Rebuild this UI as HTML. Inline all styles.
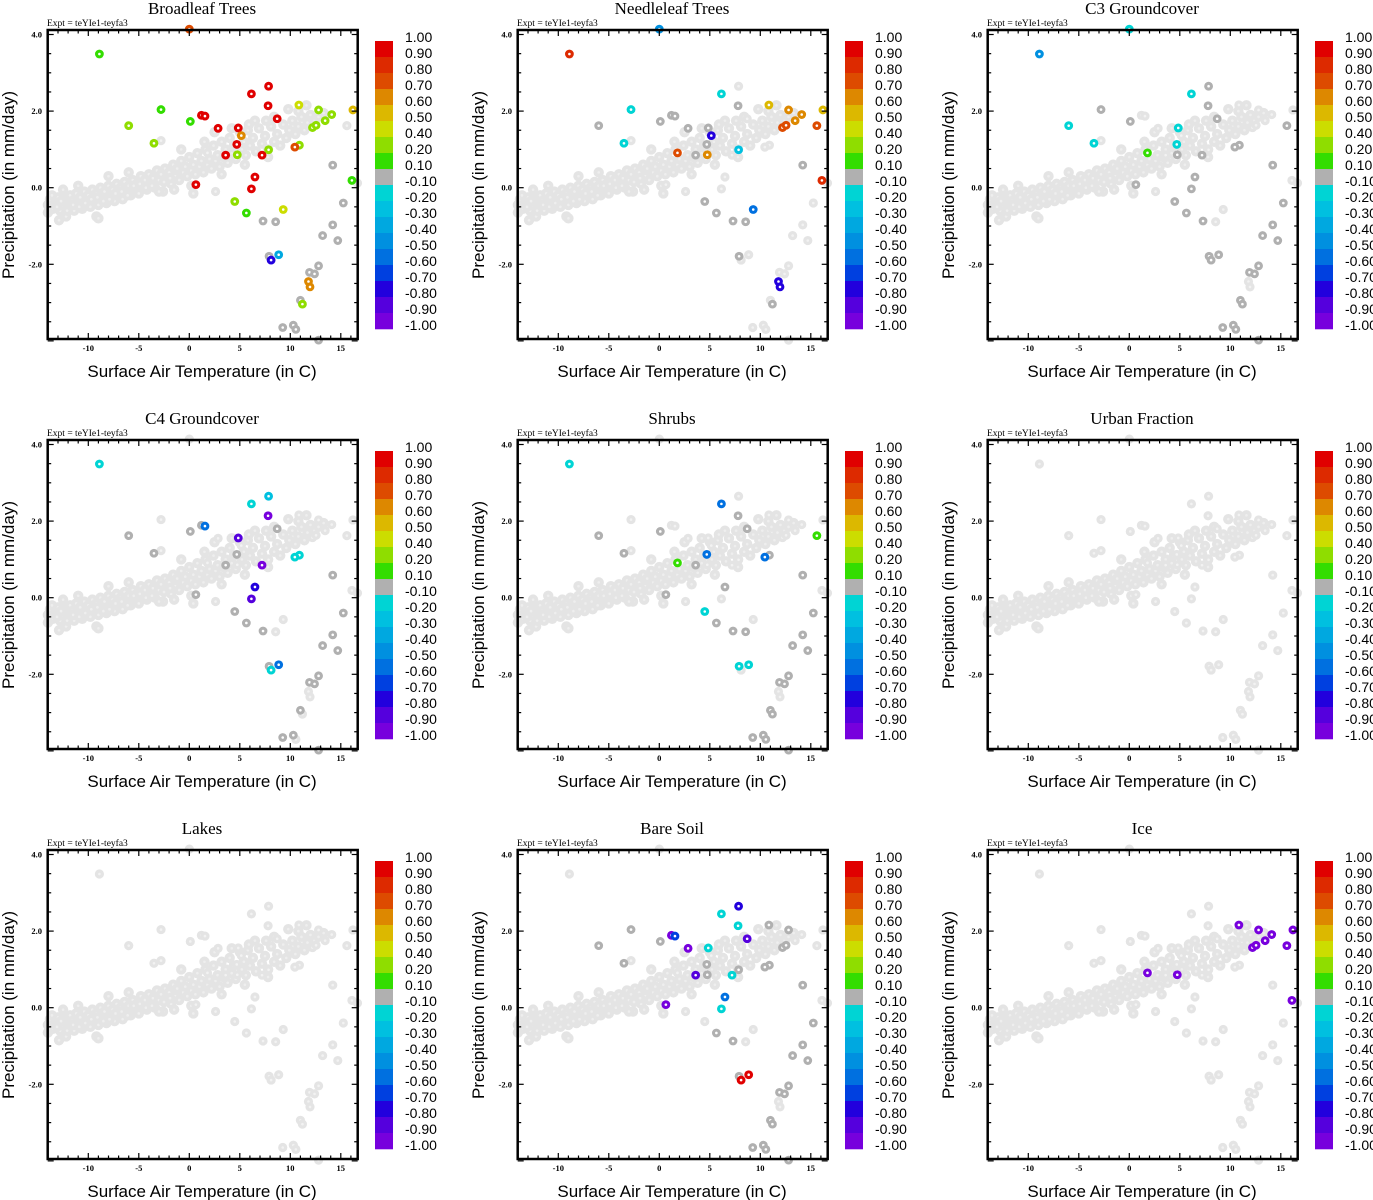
<!DOCTYPE html>
<html><head><meta charset="utf-8"><style>
html,body{margin:0;padding:0;background:#fff;}
svg{display:block;}
</style></head><body>
<svg id="chart" width="1373" height="1200" viewBox="0 0 1373 1200" xmlns="http://www.w3.org/2000/svg"></svg>
<script>
// ---- data ----
const panelTitles = ["Broadleaf Trees","Needleleaf Trees","C3 Groundcover","C4 Groundcover","Shrubs","Urban Fraction","Lakes","Bare Soil","Ice"];
const cloudTemp = [-14,-13.8,-13.5,-13.2,-13,-12.8,-12.6,-12.4,-12.2,-12,-11.8,-11.6,-11.4,-11.2,-11,-10.8,-10.6,-10.4,-10.2,-10,-9.8,-9.6,-9.4,-9.2,-9.0,-8.8,-8.6,-8.4,-8.2,-8,-7.8,-7.6,-7.4,-7.2,-7,-6.8,-6.6,-6.4,-6.2,-6,-5.8,-5.6,-5.4,-5.2,-5,-4.8,-4.6,-4.4,-4.2,-4,-3.8,-3.6,-3.4,-3.2,-3,-2.8,-2.6,-2.4,-2.2,-2,-1.8,-1.6,-1.4,-1.2,-1,-0.8,-0.6,-0.4,-0.2,0,0.2,0.4,0.6,0.8,1,1.2,1.4,1.6,1.8,2,2.2,2.4,2.6,2.8,3,3.2,3.4,3.6,3.8,4,4.2,4.4,4.6,5,5.2,5.4,5.6,5.8,6,6.3,6.6,6.9,7.2,7.5,7.8,8.1,8.4,8.7,9,9.3,9.6,9.9,10.2,10.5,10.8,11.1,11.4,11.7,12,12.4,12.8,13.3,-12.9,-9.2,-9.0,-14,-3,0.4,2.5,6.5,7.6,8.4,9.8,10.8,11.6,4.2,5.9,-0.8,1.5,3.2,5.5,7.8,0.2,-1.5,-6,-8,-11,-12.5,-13.6,-13.1,-12.7,-12.1,-11.5,-10.9,-10.3,-9.7,-9.1,-8.5,-7.9,-7.3,-6.7,-6.1,-5.5,-4.9,-4.3,-3.7,-2.5,-1.9];
const cloudPrecip = [-0.45,-0.3,-0.55,-0.4,-0.25,-0.6,-0.45,-0.3,-0.75,-0.5,-0.2,-0.35,-0.6,-0.15,-0.4,-0.25,-0.55,-0.1,-0.35,-0.2,-0.5,-0.05,-0.3,-0.15,-0.45,0.0,-0.25,-0.1,-0.4,0.05,-0.2,-0.05,-0.35,0.1,-0.15,0.0,-0.3,0.15,-0.1,0.05,-0.2,0.2,0.0,0.1,-0.15,0.3,0.05,0.2,-0.05,0.35,0.15,0.25,0.0,0.45,0.2,0.35,-0.1,0.5,0.25,0.4,0.1,0.6,0.3,0.5,0.2,0.7,0.4,0.55,0.3,0.8,0.45,0.6,0.35,0.9,0.55,0.7,0.4,1.0,0.6,0.75,0.5,1.1,0.7,0.85,0.55,1.2,0.8,1.0,0.65,1.3,0.9,1.1,0.75,1.45,1.0,1.2,0.85,1.5,1.1,1.3,0.95,1.55,1.15,1.35,1.0,1.6,1.2,1.4,1.1,1.65,1.3,1.5,1.75,1.4,1.6,1.85,1.5,1.7,1.9,1.75,1.85,1.95,-0.85,-0.75,-0.8,-0.65,-0.1,-0.15,1.45,1.75,1.75,1.85,2.05,2.0,2.15,1.55,1.65,1.0,1.2,0.35,0.6,0.8,0.05,-0.05,0.4,0.3,0.05,-0.05,-0.2,-0.5,-0.35,-0.6,-0.45,-0.5,-0.4,-0.3,-0.25,-0.35,-0.3,-0.15,-0.1,-0.2,0.05,0.1,0.0,0.05,0.15,0.25];
const ptTemp = [0.0,-8.9,-2.8,-6.0,-3.5,0.1,1.2,1.55,2.85,4.85,5.15,4.7,3.6,4.75,6.15,7.85,7.8,8.7,7.85,7.2,6.5,6.15,0.65,4.5,5.65,9.3,7.3,8.55,10.85,10.9,10.45,12.8,12.2,12.55,13.45,14.1,16.2,16.1,15.6,16.65,14.2,15.25,14.2,13.2,14.7,12.8,11.9,12.4,11.8,11.95,11.0,11.2,9.25,10.3,10.55,12.8,7.9,8.1,8.85,-2.8,2.6,1.8];
const ptPrecip = [4.14,3.49,2.04,1.62,1.16,1.73,1.89,1.87,1.55,1.56,1.36,1.13,0.85,0.86,2.45,2.65,2.14,1.80,0.99,0.85,0.28,-0.03,0.08,-0.36,-0.66,-0.57,-0.87,-0.89,2.16,1.11,1.06,2.03,1.57,1.63,1.75,1.91,2.03,0.19,1.62,0.12,0.59,-0.40,-0.97,-1.25,-1.38,-2.04,-2.21,-2.25,-2.45,-2.59,-2.94,-3.04,-3.65,-3.59,-3.70,-3.98,-1.79,-1.89,-1.75,1.23,-0.10,0.91];
const valBroadleaf = [0.75,0.15,0.15,0.3,0.3,0.15,0.95,0.95,0.95,0.95,0.65,0.95,0.95,0.3,0.95,0.95,0.95,0.95,0.3,0.95,0.95,0.95,0.95,0.3,0.15,0.45,0,0,0.45,0.3,0.75,0.3,0.3,0.3,0.3,0.3,0.55,0.15,null,null,0,0,0,0,0,0,0,0,0.65,0.65,0,0.3,0,0,0,0,0,-0.75,-0.35,null,null,null];
const valNeedleleaf = [-0.45,0.85,-0.15,0,-0.15,0,0,0,0,0,-0.75,0,0,0.65,-0.15,null,0,null,-0.25,null,null,null,null,0,0,-0.55,0,0,0.55,null,null,0.65,0.75,0.75,0.65,0.65,0.55,0.85,0.75,null,0,null,null,null,null,null,null,null,-0.75,-0.75,null,0,null,null,null,null,0,null,null,null,null,0.75];
const valC3 = [-0.15,-0.45,0,-0.15,-0.15,0,null,null,null,-0.15,null,-0.15,null,0,-0.15,0,0,0,null,0,0,0,0,0,0,null,0,null,null,0,0,null,null,null,null,null,null,null,0,null,0,0,0,0,0,0,0,0,null,null,0,0,0,0,0,0,0,0,0,null,null,0.15];
const valC4 = [null,-0.15,null,0,0,0,0,-0.55,null,-0.85,null,0,0,null,-0.15,-0.25,-0.95,0,null,-0.95,-0.75,-0.85,0,0,0,null,0,null,null,-0.15,-0.15,null,null,null,null,null,null,null,null,null,0,0,0,0,0,0,0,0,null,null,0,null,0,0,null,0,0,-0.15,-0.55,null,null,null];
const valShrubs = [null,-0.15,null,0,0,0,null,null,null,null,null,-0.55,0,null,-0.55,null,0,0,null,null,0,null,0,-0.15,0,null,0,0,null,0,-0.55,null,null,null,null,null,null,null,0.15,null,0,0,0,0,0,0,0,0,null,null,0,0,0,0,0,0,-0.15,null,-0.15,null,null,0.15];
const valUrban = new Array(62).fill(null);
const valLakes = new Array(62).fill(null);
const valBareSoil = [null,null,0,0,0,0,-0.95,-0.65,-0.95,-0.15,null,0,-0.85,0,-0.15,-0.75,-0.15,-0.85,0,-0.15,-0.55,-0.15,-0.95,null,0,null,0,null,0,0,0,0,0,0,null,null,null,null,null,null,0,0,0,0,0,0,0,0,null,null,0,0,0,0,0,0,0,0.95,0.95,null,null,null];
const valIce = [null,null,null,null,null,null,null,null,null,null,null,null,null,-0.95,null,null,null,null,null,null,null,null,null,null,null,null,null,null,-0.95,null,null,-0.95,-0.95,-0.95,-0.95,-0.95,-0.95,-0.95,-0.95,null,null,null,null,null,null,null,null,null,null,null,null,null,null,null,null,null,null,null,null,null,null,-0.95];
const xTicks = [-10,-5,0,5,10,15];
const yTicks = [4,2,0,-2];
const yTickLabels = ["4.0","2.0","0.0","-2.0"];
const cbEdges = [1.0,0.9,0.8,0.7,0.6,0.5,0.4,0.2,0.1,-0.1,-0.2,-0.3,-0.4,-0.5,-0.6,-0.7,-0.8,-0.9,-1.0];
const cbLabels = ["1.00","0.90","0.80","0.70","0.60","0.50","0.40","0.20","0.10","-0.10","-0.20","-0.30","-0.40","-0.50","-0.60","-0.70","-0.80","-0.90","-1.00"];
const cbColors = ["#e00000","#dd2a00","#dd4b00","#dd8800","#dcb800","#ccdd00","#8fdd00","#33dd00","#b0b0b0","#00d4d4","#00c0e0","#00a8e0","#0090e0","#0070e0","#0040e0","#2200dd","#5500dd","#7700dd"];
const panelValues = [valBroadleaf,valNeedleleaf,valC3,valC4,valShrubs,valUrban,valLakes,valBareSoil,valIce];

// ---- geometry ----
const NS = "http://www.w3.org/2000/svg";
const svg = document.getElementById("chart");
const L=47.7,R=357.7,T=30,B=339;
const xS = t => 189.3 + t*10.1;
const yS = p => 187.7 - p*38.3;
function mk(tag, attrs, parent){const e=document.createElementNS(NS,tag);for(const k in attrs)e.setAttribute(k,attrs[k]);parent.appendChild(e);return e;}
function colorFor(v){for(let i=0;i<cbColors.length;i++){if(v<=cbEdges[i]&&v>=cbEdges[i+1])return cbColors[i];}return "#b0b0b0";}
function slug(s){return s.toLowerCase().replace(/[^a-z0-9]+/g,'-');}

panelTitles.forEach((title,pi)=>{
  const ox=(pi%3)*470, oy=Math.floor(pi/3)*410;
  const g=mk("g",{transform:`translate(${ox},${oy})`},svg);
  
  
  const tt=mk("text",{x:202,y:14,"text-anchor":"middle","font-family":"Liberation Serif, serif","font-size":"17"},g);
  tt.textContent=title;
  
  
  const ex=mk("text",{x:47,y:26,"font-family":"Liberation Serif, serif","font-size":"9.5"},g);
  ex.textContent="Expt = teYIe1-teyfa3";
  
  
  const pg=mk("g",{},g);
  
  
  const ring=(t,p,col,inner,r,name)=>{
    const c=mk("circle",{cx:xS(t),cy:yS(p),r:r,fill:col},pg);
    
    
    mk("circle",{cx:xS(t),cy:yS(p),r:1.3,fill:inner},pg);
  };
  cloudTemp.forEach((t,i)=>ring(t,cloudPrecip[i],"#e4e4e4","#eeeeee",5.2,"cloud-point"));
  const vals=panelValues[pi];
  ptTemp.forEach((t,i)=>{if(vals[i]===null)ring(t,ptPrecip[i],"#e4e4e4","#f2f2f2",4.6,"point-insignificant");});
  ptTemp.forEach((t,i)=>{const v=vals[i];if(v!==null&&v>-0.1&&v<0.1)ring(t,ptPrecip[i],"#b0b0b0","#ffffff",4.4,"point-neutral");});
  ptTemp.forEach((t,i)=>{const v=vals[i];if(v!==null&&(v>=0.1||v<=-0.1))ring(t,ptPrecip[i],colorFor(v),"#ffffff",4.4,"point-colored");});
  const fr=mk("rect",{x:L,y:T,width:R-L,height:B-T,fill:"none",stroke:"#000","stroke-width":2.5},g);
  
  
  for(let t=-14;t<=16;t++){const x=xS(t);const maj=xTicks.includes(t);const len=maj?6:3.5;
    mk("line",{x1:x,x2:x,y1:B,y2:B-len,stroke:"#000","stroke-width":1.2},g);
    mk("line",{x1:x,x2:x,y1:T,y2:T+len,stroke:"#000","stroke-width":1.2},g);}
  for(let k=-8;k<=8;k++){const p=k*0.5;const y=yS(p);const maj=(k%4===0);const len=maj?6:3.5;
    mk("line",{x1:L,x2:L+len,y1:y,y2:y,stroke:"#000","stroke-width":1.2},g);
    mk("line",{x1:R,x2:R-len,y1:y,y2:y,stroke:"#000","stroke-width":1.2},g);}
  xTicks.forEach(t=>{const e=mk("text",{x:xS(t),y:351,"text-anchor":"middle","font-family":"Liberation Serif, serif","font-size":"8.5","font-weight":"bold"},g);e.textContent=String(t);
    
    });
  yTicks.forEach((p,i)=>{const e=mk("text",{x:42,y:yS(p)+3,"text-anchor":"end","font-family":"Liberation Serif, serif","font-size":"8.5","font-weight":"bold"},g);e.textContent=yTickLabels[i];
    
    });
  const xl=mk("text",{x:202,y:377,"text-anchor":"middle","font-family":"Liberation Sans, sans-serif","font-size":"17"},g);
  xl.textContent="Surface Air Temperature (in C)";
  
  
  const yl=mk("text",{x:0,y:0,"text-anchor":"middle","font-family":"Liberation Sans, sans-serif","font-size":"17",transform:"translate(14,185) rotate(-90)"},g);
  yl.textContent="Precipitation (in mm/day)";
  
  
  const cb=mk("g",{},g);
  
  
  cbColors.forEach((c,i)=>{const r=mk("rect",{x:375,y:41+i*16,width:18,height:16.3,fill:c},cb);
    
    });
  cbLabels.forEach((s,i)=>{const e=mk("text",{x:405,y:41+i*16+1,"font-family":"Liberation Sans, sans-serif","font-size":"14"},cb);e.textContent=s;
    
    });
});
</script>
</body></html>
